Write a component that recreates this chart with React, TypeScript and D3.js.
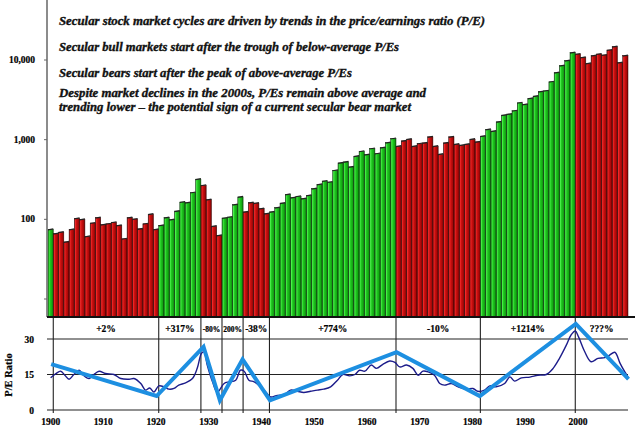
import React, { useEffect, useRef } from "react";
import * as d3 from "d3";

// Year-end index level, one bar per year starting 1900
const firstYear = 1900;
const indexValues = [
  75, 66, 69, 52, 75, 103, 100, 61, 90, 105, // 1900s
  86, 88, 92, 84, 57, 105, 101, 76, 88, 116, // 1910s
  75, 84, 105, 99, 127, 165, 162, 217, 319, 268, // 1920s
  177, 82, 63, 104, 107, 153, 191, 124, 162, 160, // 1930s
  136, 118, 124, 140, 160, 206, 187, 195, 182, 200, // 1940s
  243, 275, 303, 294, 413, 510, 526, 455, 620, 716, // 1950s
  650, 774, 670, 796, 920, 1035, 828, 967, 1014, 828, // 1960s
  896, 912, 1086, 828, 657, 912, 1086, 878, 852, 878, // 1970s
  1014, 939, 1107, 1343, 1279, 1676, 2033, 2094, 2307, 2904, // 1980s
  2767, 3296, 3524, 3999, 4111, 5333, 6934, 8489, 9812, 12360, // 1990s
  11892, 10806, 9078, 11320, 11892, 11560, 13360, 14720, 9250, 11320, // 2000s
];

// secular phases (start inclusive, end exclusive)
const phaseStart = [1900, 1901, 1921, 1929, 1933, 1937, 1942, 1966, 1982, 2000];
const phaseEnd = [1901, 1921, 1929, 1933, 1937, 1942, 1966, 1982, 2000, 2010];
const phaseBull = [true, false, true, false, true, false, true, false, true, false];
const phaseLabel = ["", "+2%", "+317%", "-80%", "200%", "-38%", "+774%", "-10%", "+1214%", "???%"];

// P/E ratio (thin line)
const peYears = [
  1900.5, 1901.5, 1902.4, 1903.2, 1904, 1904.9, 1905.9, 1906.7, 1907.8, 1908.7,
  1909.7, 1910.9, 1912.5, 1913.8, 1915.4, 1916.3, 1917.6, 1918.5, 1919.3, 1920.1,
  1921, 1922, 1922.9, 1923.9, 1924.8, 1926.1, 1927.4, 1928.3, 1929.1, 1929.6,
  1930.2, 1931.2, 1932.1, 1933.4, 1934.3, 1935.6, 1936.5, 1937.2, 1938.1, 1939.1,
  1940.3, 1941.3, 1942.2, 1943.5, 1944.8, 1946, 1947.3, 1948.5, 1949.8, 1951.1,
  1952.3, 1953.6, 1954.9, 1955.9, 1957.2, 1958.2, 1959.1, 1960.1, 1961.3, 1962.3,
  1963.5, 1964.8, 1965.8, 1966.7, 1968, 1969.2, 1970.2, 1971.1, 1972.1, 1973.3,
  1974.3, 1975.2, 1976.5, 1977.8, 1979.3, 1980.6, 1981.5, 1982.8, 1983.8, 1985,
  1986.6, 1987.6, 1988.5, 1989.8, 1991.4, 1992.9, 1994.5, 1995.8, 1997, 1998.3,
  1999.2, 2000, 2000.6, 2001.8, 2003, 2004.3, 2005.6, 2006.5, 2007.5, 2008.5,
  2009.4, 2010,
];
const peValues = [
  13.6, 15.4, 16.4, 14.7, 13.0, 15, 16.8, 14.7, 13.3, 15,
  16.4, 15.4, 15, 13.3, 13, 13.3, 11.2, 8.4, 9.3, 7.6,
  10.2, 9.8, 8.8, 9.1, 10.5, 11.5, 13.3, 17.6, 23.9, 24.6,
  19, 11.9, 7.6, 11.2, 11.9, 12.6, 16.8, 16.4, 12.6, 11.9,
  9.8, 7.6, 5.5, 6.2, 6.5, 8.4, 7.9, 7.4, 7.9, 8.4,
  8.8, 9.8, 12.6, 15, 14.4, 15, 16.8, 16.4, 19, 17.6,
  19.3, 20.7, 20.1, 18.2, 19, 17.6, 14.7, 16.4, 16.1, 14.7,
  11.2, 10.5, 11.2, 9.8, 8.8, 9.1, 7.9, 8.4, 10.2, 9.8,
  11.2, 14, 12.2, 13.6, 13.9, 14.7, 15, 17.6, 21.8, 27.4,
  31.7, 33.4, 31, 24.6, 20.4, 21.8, 22.1, 23.2, 24.4, 19.7,
  16.1, 14,
];

// P/E trend (thick blue zigzag)
const trendYears = [1900.6, 1920.6, 1929.5, 1932.6, 1936.9, 1942.1, 1966.1, 1981.9, 2000.1, 2010.1];
const trendValues = [19.4, 5.9, 26.7, 4.1, 21.4, 4.1, 24.4, 5.9, 36.4, 13.0];

const priceTicks = [10, 100, 1000, 10000];
const peTicks = [0, 15, 30];
const yearTicks = [1900, 1910, 1920, 1930, 1940, 1950, 1960, 1970, 1980, 1990, 2000];

const notes = [
  "Secular stock market cycles are driven by trends in the price/earnings ratio (P/E)",
  "Secular bull markets start after the trough of below-average P/Es",
  "Secular bears start after the peak of above-average P/Es",
  "Despite market declines in the 2000s, P/Es remain above average and",
  "trending lower \u2013 the potential sign of a current secular bear market",
];
const noteY = [25, 51, 77, 96.5, 110.5];
const noteW = [426, 340, 293, 367, 352];

const W = 640;
const H = 433;
const serif = "'Liberation Serif', 'DejaVu Serif', serif";

const App: React.FC = () => {
  const svgRef = useRef<SVGSVGElement | null>(null);

  useEffect(() => {
    if (!svgRef.current) return;
    const svg = d3.select(svgRef.current);
    svg.selectAll("*").remove();

    const baseY = 317; // bottom of price panel
    const x = d3.scaleLinear().domain([1900, 2010]).range([48, 628]);
    const yPrice = d3.scaleLog().domain([10, 10000]).range([299, 60]);
    const yPE = d3.scaleLinear().domain([0, 30]).range([410, 339]);

    // bar gradients
    const defs = svg.append("defs");
    const grad = (id: string, stops: string[]) => {
      const g = defs.append("linearGradient").attr("id", id).attr("x1", 0).attr("x2", 1).attr("y1", 0).attr("y2", 0);
      const offs = [0, 0.18, 0.4, 0.75, 1];
      stops.forEach((c, i) => g.append("stop").attr("offset", offs[i]).attr("stop-color", c));
    };
    grad("gGreen", ["#0c5a0c", "#4cf04c", "#1fc81f", "#14a814", "#0a6a0a"]);
    grad("gRed", ["#5a0505", "#f02a2a", "#cc1010", "#a80808", "#6a0303"]);

    const bull = (yr: number) => {
      const i = phaseStart.findIndex((s, k) => yr >= s && yr < phaseEnd[k]);
      return phaseBull[i];
    };

    const bars = indexValues.map((v, i) => ({ year: firstYear + i, value: v }));

    svg
      .append("g")
      .selectAll("rect")
      .data(bars)
      .enter()
      .append("rect")
      .attr("x", (d) => x(d.year))
      .attr("y", (d) => yPrice(d.value))
      .attr("width", (d) => x(d.year + 1) - x(d.year))
      .attr("height", (d) => baseY - yPrice(d.value))
      .attr("fill", (d) => (bull(d.year) ? "url(#gGreen)" : "url(#gRed)"))
      .attr("stroke", (d) => (bull(d.year) ? "#0b3d0b" : "#3d0505"))
      .attr("stroke-width", 0.5);

    // dark top caps
    svg
      .append("g")
      .selectAll("line")
      .data(bars)
      .enter()
      .append("line")
      .attr("x1", (d) => x(d.year))
      .attr("x2", (d) => x(d.year + 1))
      .attr("y1", (d) => yPrice(d.value) + 0.5)
      .attr("y2", (d) => yPrice(d.value) - 0.5)
      .attr("stroke", "#222")
      .attr("stroke-width", 1.2);

    // price axis
    svg.append("line").attr("x1", 47).attr("x2", 47).attr("y1", 0).attr("y2", baseY).attr("stroke", "#666").attr("stroke-width", 1.5);
    const pt = svg.append("g");
    priceTicks.forEach((t) => {
      pt.append("line").attr("x1", 44).attr("x2", 47).attr("y1", yPrice(t)).attr("y2", yPrice(t)).attr("stroke", "#666").attr("stroke-width", 1);
      if (t >= 100)
        pt.append("text")
          .attr("x", 35)
          .attr("y", yPrice(t) + 3)
          .attr("text-anchor", "end")
          .attr("font-family", serif)
          .attr("font-weight", "bold")
          .attr("font-size", 9.5)
          .attr("stroke", "#000")
          .attr("stroke-width", 0.2)
          .text(d3.format(",")(t));
    });

    // annotations
    notes.forEach((n, i) => {
      svg
        .append("text")
        .attr("x", 59)
        .attr("y", noteY[i])
        .attr("font-family", serif)
        .attr("font-weight", "bold")
        .attr("font-style", "italic")
        .attr("font-size", 12)
        .attr("textLength", noteW[i])
        .attr("lengthAdjust", "spacingAndGlyphs")
        .attr("fill", "#111")
        .attr("stroke", "#111")
        .attr("stroke-width", 0.35)
        .text(n);
    });

    // P/E panel
    const pe = svg.append("g");
    peTicks.forEach((t) => {
      pe.append("line").attr("x1", 47).attr("x2", 628).attr("y1", yPE(t)).attr("y2", yPE(t)).attr("stroke", "#222").attr("stroke-width", 1.1);
      pe.append("text")
        .attr("x", 34)
        .attr("y", yPE(t) + 3.5)
        .attr("text-anchor", "end")
        .attr("font-family", serif)
        .attr("font-weight", "bold")
        .attr("font-size", 9.5)
        .attr("stroke", "#000")
        .attr("stroke-width", 0.2)
        .text(t);
    });
    phaseStart.slice(1).forEach((s) => {
      pe.append("line").attr("x1", x(s)).attr("x2", x(s)).attr("y1", baseY).attr("y2", 413).attr("stroke", "#222").attr("stroke-width", 1.1);
    });
    phaseLabel.forEach((lab, i) => {
      if (!lab) return;
      const small = phaseEnd[i] - phaseStart[i] <= 4;
      pe.append("text")
        .attr("x", (x(phaseStart[i]) + x(phaseEnd[i])) / 2)
        .attr("y", 331.5)
        .attr("text-anchor", "middle")
        .attr("font-family", serif)
        .attr("font-weight", "bold")
        .attr("font-size", small ? 7.5 : 9.5)
        .attr("stroke", "#000")
        .attr("stroke-width", 0.2)
        .text(lab);
    });

    // axis line under bars
    svg.append("line").attr("x1", 47).attr("x2", 635).attr("y1", baseY).attr("y2", baseY).attr("stroke", "#111").attr("stroke-width", 2);

    const peLine = d3
      .line<number>()
      .x((_, i) => x(peYears[i]))
      .y((d) => yPE(d))
      .curve(d3.curveCatmullRom.alpha(0.5));
    pe.append("path").attr("d", peLine(peValues)).attr("fill", "none").attr("stroke", "#1c1c8a").attr("stroke-width", 1.4);

    const trendLine = d3
      .line<number>()
      .x((_, i) => x(trendYears[i]))
      .y((d) => yPE(d));
    pe.append("path")
      .attr("d", trendLine(trendValues))
      .attr("fill", "none")
      .attr("stroke", "#1d8fe1")
      .attr("stroke-width", 4)
      .attr("stroke-linejoin", "miter");

    pe.append("text")
      .attr("transform", "translate(12,375) rotate(-90)")
      .attr("text-anchor", "middle")
      .attr("font-family", serif)
      .attr("font-weight", "bold")
      .attr("font-size", 10.5)
      .attr("stroke", "#000")
      .attr("stroke-width", 0.2)
      .text("P/E Ratio");

    // year axis labels
    svg
      .append("g")
      .selectAll("text")
      .data(yearTicks)
      .enter()
      .append("text")
      .attr("x", (d) => x(d + 0.5))
      .attr("y", 425)
      .attr("text-anchor", "middle")
      .attr("font-family", serif)
      .attr("font-weight", "bold")
      .attr("font-size", 9.5)
      .attr("stroke", "#000")
      .attr("stroke-width", 0.2)
      .text((d) => d);
  }, []);

  return (
    <svg
      ref={svgRef}
      width={W}
      height={H}
      style={{ position: "absolute", left: 0, top: 0, background: "#fff" }}
    />
  );
};

export default App;
